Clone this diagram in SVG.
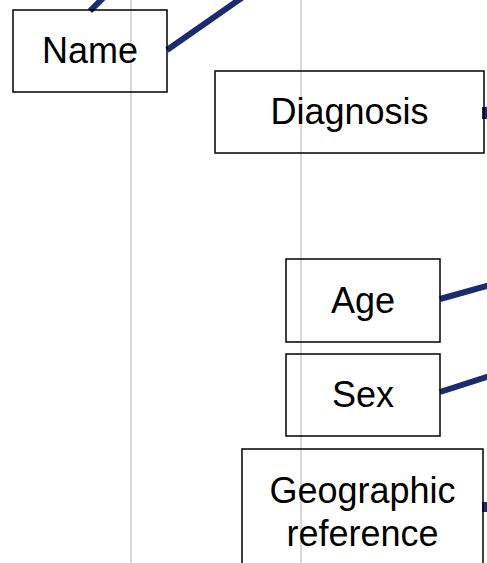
<svg xmlns="http://www.w3.org/2000/svg" width="487" height="563" viewBox="0 0 487 563">
<style>
.box{fill:none;stroke:#000;stroke-width:1.5}
.lbl{font-family:"Liberation Sans",Arial,sans-serif;font-size:36px;fill:#000;text-anchor:middle}
.guide{stroke:#cccccc;stroke-width:1.5}
.edge{stroke:#1c2a6e;stroke-width:6;fill:none}
</style>
<rect width="487" height="563" fill="#fff"/>
<g id="guides">
<line class="guide" x1="131" y1="0" x2="131" y2="563"/>
<line class="guide" x1="301" y1="0" x2="301" y2="563"/>
</g>
<g id="connectors">
<line class="edge" x1="90" y1="11" x2="104" y2="-3"/>
<line class="edge" x1="167" y1="50" x2="243" y2="-3"/>
<line class="edge" x1="485" y1="107" x2="485" y2="119"/>
<line class="edge" x1="440" y1="299" x2="490" y2="285"/>
<line class="edge" x1="440" y1="392" x2="490" y2="376"/>
<line class="edge" x1="485" y1="502" x2="485" y2="512"/>
</g>
<g id="name"><rect class="box" x="13" y="10" width="154" height="82"/><text class="lbl" x="90" y="63">Name</text></g>
<g id="diagnosis"><rect class="box" x="215" y="71" width="269" height="82"/><text class="lbl" x="349.5" y="124">Diagnosis</text></g>
<g id="age"><rect class="box" x="286" y="259" width="154" height="83"/><text class="lbl" x="363" y="313">Age</text></g>
<g id="sex"><rect class="box" x="286" y="354" width="154" height="82"/><text class="lbl" x="363" y="407">Sex</text></g>
<g id="geo"><rect class="box" x="242" y="449" width="241" height="130"/><text class="lbl" x="362.5" y="503">Geographic</text><text class="lbl" x="362.5" y="546">reference</text></g>
</svg>
